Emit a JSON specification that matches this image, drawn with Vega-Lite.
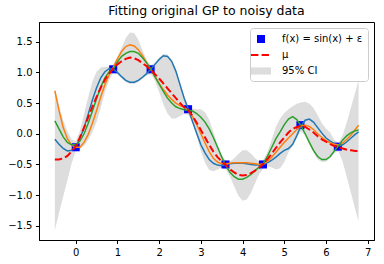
{
  "$schema": "https://vega.github.io/schema/vega-lite/v6.json",
  "width": 335,
  "height": 218,
  "autosize": {"type": "none"},
  "padding": {"left": 39, "top": 22, "right": 10, "bottom": 24},
  "background": "white",
  "title": {"text": "Fitting original GP to noisy data", "fontSize": 12.5, "font": "DejaVu Sans", "fontWeight": "normal", "color": "black", "offset": 5},
  "config": {
    "font": "DejaVu Sans",
    "view": {"stroke": "black", "strokeWidth": 1},
    "axis": {"grid": false, "title": null, "labelFontSize": 10, "labelColor": "black", "tickColor": "black", "domainColor": "black", "tickSize": 3.5, "labelPadding": 3.5, "labelFont": "DejaVu Sans", "domainWidth": 1, "tickWidth": 1, "labelOverlap": false, "labelFlush": false}
  },
  "datasets": {
    "curve": [
      {"x": -0.5, "mean": -0.42, "lo": -1.57, "hi": 0.73, "b": -0.09, "o": 0.70, "g": 0.21},
      {"x": -0.4, "mean": -0.42, "lo": -1.29, "hi": 0.45, "b": -0.17, "o": 0.38, "g": 0.08},
      {"x": -0.3, "mean": -0.40, "lo": -1.02, "hi": 0.22, "b": -0.24, "o": 0.10, "g": -0.05},
      {"x": -0.2, "mean": -0.36, "lo": -0.76, "hi": 0.04, "b": -0.28, "o": -0.08, "g": -0.14},
      {"x": -0.1, "mean": -0.29, "lo": -0.49, "hi": -0.09, "b": -0.27, "o": -0.18, "g": -0.18},
      {"x": 0.0, "mean": -0.20, "lo": -0.28, "hi": -0.12, "b": -0.21, "o": -0.22, "g": -0.18},
      {"x": 0.1, "mean": -0.06, "lo": -0.25, "hi": 0.05, "b": -0.08, "o": -0.22, "g": -0.12},
      {"x": 0.2, "mean": 0.10, "lo": -0.20, "hi": 0.32, "b": 0.10, "o": -0.14, "g": 0.00},
      {"x": 0.3, "mean": 0.27, "lo": -0.10, "hi": 0.60, "b": 0.32, "o": -0.01, "g": 0.17},
      {"x": 0.4, "mean": 0.44, "lo": 0.03, "hi": 0.85, "b": 0.55, "o": 0.17, "g": 0.37},
      {"x": 0.5, "mean": 0.60, "lo": 0.19, "hi": 1.01, "b": 0.75, "o": 0.38, "g": 0.57},
      {"x": 0.6, "mean": 0.75, "lo": 0.42, "hi": 1.08, "b": 0.91, "o": 0.60, "g": 0.76},
      {"x": 0.7, "mean": 0.88, "lo": 0.67, "hi": 1.09, "b": 1.01, "o": 0.80, "g": 0.91},
      {"x": 0.8, "mean": 0.98, "lo": 0.87, "hi": 1.09, "b": 1.06, "o": 0.96, "g": 1.01},
      {"x": 0.9, "mean": 1.06, "lo": 0.99, "hi": 1.13, "b": 1.05, "o": 1.08, "g": 1.05},
      {"x": 1.0, "mean": 1.13, "lo": 0.97, "hi": 1.25, "b": 1.00, "o": 1.22, "g": 1.17},
      {"x": 1.1, "mean": 1.18, "lo": 0.90, "hi": 1.40, "b": 0.93, "o": 1.34, "g": 1.26},
      {"x": 1.2, "mean": 1.22, "lo": 0.84, "hi": 1.56, "b": 0.87, "o": 1.42, "g": 1.31},
      {"x": 1.3, "mean": 1.24, "lo": 0.81, "hi": 1.65, "b": 0.84, "o": 1.45, "g": 1.34},
      {"x": 1.4, "mean": 1.23, "lo": 0.81, "hi": 1.64, "b": 0.84, "o": 1.43, "g": 1.34},
      {"x": 1.5, "mean": 1.20, "lo": 0.84, "hi": 1.53, "b": 0.87, "o": 1.37, "g": 1.31},
      {"x": 1.6, "mean": 1.15, "lo": 0.89, "hi": 1.36, "b": 0.92, "o": 1.27, "g": 1.24},
      {"x": 1.7, "mean": 1.10, "lo": 0.95, "hi": 1.21, "b": 0.98, "o": 1.16, "g": 1.15},
      {"x": 1.8, "mean": 1.04, "lo": 0.97, "hi": 1.11, "b": 1.05, "o": 1.05, "g": 1.05},
      {"x": 1.9, "mean": 0.97, "lo": 0.86, "hi": 1.16, "b": 1.13, "o": 0.93, "g": 0.93},
      {"x": 2.0, "mean": 0.90, "lo": 0.68, "hi": 1.24, "b": 1.21, "o": 0.82, "g": 0.81},
      {"x": 2.1, "mean": 0.82, "lo": 0.48, "hi": 1.30, "b": 1.27, "o": 0.72, "g": 0.69},
      {"x": 2.2, "mean": 0.74, "lo": 0.33, "hi": 1.29, "b": 1.26, "o": 0.63, "g": 0.58},
      {"x": 2.3, "mean": 0.66, "lo": 0.25, "hi": 1.21, "b": 1.18, "o": 0.56, "g": 0.50},
      {"x": 2.4, "mean": 0.58, "lo": 0.25, "hi": 1.05, "b": 1.02, "o": 0.50, "g": 0.44},
      {"x": 2.5, "mean": 0.50, "lo": 0.29, "hi": 0.83, "b": 0.80, "o": 0.46, "g": 0.41},
      {"x": 2.6, "mean": 0.43, "lo": 0.32, "hi": 0.61, "b": 0.58, "o": 0.43, "g": 0.39},
      {"x": 2.7, "mean": 0.38, "lo": 0.31, "hi": 0.45, "b": 0.40, "o": 0.38, "g": 0.38},
      {"x": 2.8, "mean": 0.29, "lo": 0.17, "hi": 0.41, "b": 0.20, "o": 0.28, "g": 0.37},
      {"x": 2.9, "mean": 0.18, "lo": -0.04, "hi": 0.40, "b": 0.01, "o": 0.15, "g": 0.33},
      {"x": 3.0, "mean": 0.06, "lo": -0.28, "hi": 0.40, "b": -0.18, "o": 0.00, "g": 0.27},
      {"x": 3.1, "mean": -0.06, "lo": -0.47, "hi": 0.35, "b": -0.31, "o": -0.15, "g": 0.19},
      {"x": 3.2, "mean": -0.18, "lo": -0.59, "hi": 0.23, "b": -0.42, "o": -0.29, "g": 0.08},
      {"x": 3.3, "mean": -0.29, "lo": -0.61, "hi": 0.03, "b": -0.48, "o": -0.40, "g": -0.06},
      {"x": 3.4, "mean": -0.38, "lo": -0.58, "hi": -0.18, "b": -0.51, "o": -0.46, "g": -0.22},
      {"x": 3.5, "mean": -0.45, "lo": -0.55, "hi": -0.35, "b": -0.52, "o": -0.49, "g": -0.38},
      {"x": 3.6, "mean": -0.51, "lo": -0.58, "hi": -0.44, "b": -0.50, "o": -0.49, "g": -0.52},
      {"x": 3.7, "mean": -0.58, "lo": -0.70, "hi": -0.45, "b": -0.49, "o": -0.48, "g": -0.63},
      {"x": 3.8, "mean": -0.63, "lo": -0.86, "hi": -0.40, "b": -0.48, "o": -0.47, "g": -0.70},
      {"x": 3.9, "mean": -0.67, "lo": -1.01, "hi": -0.33, "b": -0.48, "o": -0.47, "g": -0.74},
      {"x": 4.0, "mean": -0.68, "lo": -1.09, "hi": -0.27, "b": -0.48, "o": -0.47, "g": -0.74},
      {"x": 4.1, "mean": -0.67, "lo": -1.07, "hi": -0.27, "b": -0.49, "o": -0.47, "g": -0.71},
      {"x": 4.2, "mean": -0.64, "lo": -0.96, "hi": -0.32, "b": -0.50, "o": -0.48, "g": -0.66},
      {"x": 4.3, "mean": -0.60, "lo": -0.80, "hi": -0.40, "b": -0.51, "o": -0.49, "g": -0.60},
      {"x": 4.4, "mean": -0.55, "lo": -0.65, "hi": -0.45, "b": -0.51, "o": -0.50, "g": -0.54},
      {"x": 4.5, "mean": -0.49, "lo": -0.56, "hi": -0.42, "b": -0.50, "o": -0.49, "g": -0.48},
      {"x": 4.6, "mean": -0.41, "lo": -0.53, "hi": -0.29, "b": -0.47, "o": -0.45, "g": -0.36},
      {"x": 4.7, "mean": -0.32, "lo": -0.55, "hi": -0.09, "b": -0.43, "o": -0.38, "g": -0.22},
      {"x": 4.8, "mean": -0.23, "lo": -0.58, "hi": 0.12, "b": -0.38, "o": -0.30, "g": -0.08},
      {"x": 4.9, "mean": -0.14, "lo": -0.56, "hi": 0.25, "b": -0.32, "o": -0.22, "g": 0.03},
      {"x": 5.0, "mean": -0.06, "lo": -0.46, "hi": 0.34, "b": -0.27, "o": -0.14, "g": 0.15},
      {"x": 5.1, "mean": 0.02, "lo": -0.30, "hi": 0.40, "b": -0.24, "o": -0.07, "g": 0.24},
      {"x": 5.2, "mean": 0.08, "lo": -0.20, "hi": 0.45, "b": -0.17, "o": 0.00, "g": 0.28},
      {"x": 5.3, "mean": 0.11, "lo": -0.06, "hi": 0.49, "b": -0.03, "o": 0.07, "g": 0.23},
      {"x": 5.4, "mean": 0.13, "lo": 0.04, "hi": 0.51, "b": 0.13, "o": 0.13, "g": 0.13},
      {"x": 5.5, "mean": 0.11, "lo": -0.03, "hi": 0.52, "b": 0.22, "o": 0.14, "g": 0.00},
      {"x": 5.6, "mean": 0.07, "lo": -0.17, "hi": 0.49, "b": 0.24, "o": 0.12, "g": -0.14},
      {"x": 5.7, "mean": 0.02, "lo": -0.31, "hi": 0.42, "b": 0.19, "o": 0.07, "g": -0.27},
      {"x": 5.8, "mean": -0.04, "lo": -0.42, "hi": 0.30, "b": 0.10, "o": 0.00, "g": -0.37},
      {"x": 5.9, "mean": -0.09, "lo": -0.46, "hi": 0.17, "b": 0.01, "o": -0.06, "g": -0.42},
      {"x": 6.0, "mean": -0.13, "lo": -0.45, "hi": 0.08, "b": -0.07, "o": -0.11, "g": -0.42},
      {"x": 6.1, "mean": -0.17, "lo": -0.40, "hi": 0.02, "b": -0.12, "o": -0.15, "g": -0.37},
      {"x": 6.2, "mean": -0.20, "lo": -0.31, "hi": -0.10, "b": -0.16, "o": -0.17, "g": -0.28},
      {"x": 6.3, "mean": -0.22, "lo": -0.29, "hi": -0.15, "b": -0.20, "o": -0.18, "g": -0.19},
      {"x": 6.4, "mean": -0.24, "lo": -0.46, "hi": -0.02, "b": -0.18, "o": -0.15, "g": -0.10},
      {"x": 6.5, "mean": -0.26, "lo": -0.71, "hi": 0.19, "b": -0.13, "o": -0.09, "g": -0.03},
      {"x": 6.6, "mean": -0.27, "lo": -0.97, "hi": 0.43, "b": -0.07, "o": -0.02, "g": 0.02},
      {"x": 6.7, "mean": -0.28, "lo": -1.23, "hi": 0.67, "b": -0.01, "o": 0.07, "g": 0.05},
      {"x": 6.78, "mean": -0.28, "lo": -1.43, "hi": 0.87, "b": 0.03, "o": 0.14, "g": 0.06}
    ],
    "obs": [
      {"x": 0.0, "y": -0.22, "series": "f(x) = sin(x) + ε"},
      {"x": 0.898, "y": 1.05, "series": "f(x) = sin(x) + ε"},
      {"x": 1.795, "y": 1.05, "series": "f(x) = sin(x) + ε"},
      {"x": 2.693, "y": 0.40, "series": "f(x) = sin(x) + ε"},
      {"x": 3.59, "y": -0.50, "series": "f(x) = sin(x) + ε"},
      {"x": 4.488, "y": -0.50, "series": "f(x) = sin(x) + ε"},
      {"x": 5.386, "y": 0.14, "series": "f(x) = sin(x) + ε"},
      {"x": 6.283, "y": -0.21, "series": "f(x) = sin(x) + ε"}
    ]
  },
  "layer": [
    {
      "data": {"name": "curve"},
      "mark": {"type": "area", "color": "#dddddd", "opacity": 1},
      "encoding": {
        "x": {"field": "x", "type": "quantitative", "scale": {"domain": [-0.88, 7.15], "nice": false, "zero": false}, "axis": {"values": [0, 1, 2, 3, 4, 5, 6, 7], "format": "d", "labelOverlap": false, "tickCount": 20}},
        "y": {"field": "lo", "type": "quantitative", "scale": {"domain": [-1.73, 1.82], "nice": false, "zero": false}, "axis": {"values": [-1.5, -1, -0.5, 0, 0.5, 1, 1.5], "format": ".1f", "labelOverlap": false, "tickCount": 20}},
        "y2": {"field": "hi"}
      }
    },
    {
      "data": {"name": "obs"},
      "mark": {"type": "point", "filled": true, "opacity": 1, "size": 144, "strokeWidth": 0},
      "encoding": {
        "x": {"field": "x", "type": "quantitative"},
        "y": {"field": "y", "type": "quantitative"},
        "color": {"field": "series", "type": "nominal", "scale": {"domain": ["f(x) = sin(x) + ε", "μ", "95% CI"], "range": ["#0000ff", "#ff0000", "#dddddd"]},
          "legend": {"title": null, "orient": "top-right", "offset": 6, "padding": 5, "fillColor": "white", "strokeColor": "#cccccc", "cornerRadius": 3, "labelFontSize": 10, "labelFont": "DejaVu Sans", "labelColor": "black", "symbolSize": 144, "symbolStrokeWidth": 0, "rowPadding": 5, "labelOffset": 15}},
        "shape": {"field": "series", "type": "nominal", "scale": {"domain": ["f(x) = sin(x) + ε", "μ", "95% CI"], "range": ["M-0.67,-0.67H0.67V0.67H-0.67Z", "M-1.67,-0.17H-0.43V0.17H-1.67Z M0.1,-0.17H1.33V0.17H0.1Z", "M-1.67,-0.6H1.67V0.6H-1.67Z"]},
          "legend": {"title": null, "orient": "top-right", "offset": 6, "padding": 5, "fillColor": "white", "strokeColor": "#cccccc", "cornerRadius": 3, "labelFontSize": 10, "labelFont": "DejaVu Sans", "labelColor": "black", "symbolSize": 144, "symbolStrokeWidth": 0, "rowPadding": 5, "labelOffset": 15}}
      }
    },
    {
      "data": {"name": "curve"},
      "mark": {"type": "line", "color": "#1f77b4", "strokeWidth": 1.5},
      "encoding": {"x": {"field": "x", "type": "quantitative"}, "y": {"field": "b", "type": "quantitative"}}
    },
    {
      "data": {"name": "curve"},
      "mark": {"type": "line", "color": "#ff7f0e", "strokeWidth": 1.5},
      "encoding": {"x": {"field": "x", "type": "quantitative"}, "y": {"field": "o", "type": "quantitative"}}
    },
    {
      "data": {"name": "curve"},
      "mark": {"type": "line", "color": "#2ca02c", "strokeWidth": 1.5},
      "encoding": {"x": {"field": "x", "type": "quantitative"}, "y": {"field": "g", "type": "quantitative"}}
    },
    {
      "data": {"name": "curve"},
      "mark": {"type": "line", "color": "#ff0000", "strokeWidth": 2, "strokeDash": [7.4, 3.2]},
      "encoding": {"x": {"field": "x", "type": "quantitative"}, "y": {"field": "mean", "type": "quantitative"}}
    }
  ]
}
